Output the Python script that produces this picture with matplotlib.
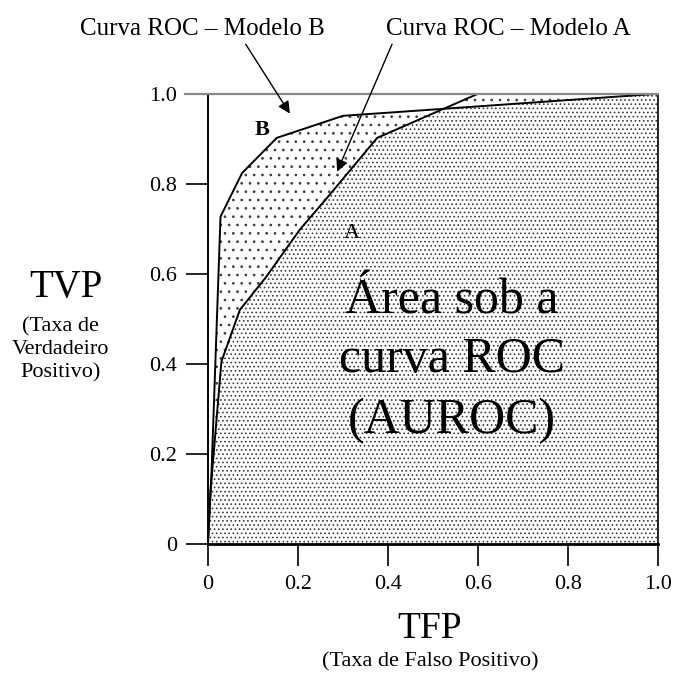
import numpy as np
import matplotlib.pyplot as plt

plt.rcParams['font.family'] = ['Liberation Serif', 'DejaVu Serif']
plt.rcParams['hatch.linewidth'] = 0.7

# curva ROC - modelo A
fpr_a = [0.0, 0.006, 0.03, 0.071, 0.13, 0.204, 0.264, 0.376, 0.6, 1.0]
tpr_a = [0.0, 0.12, 0.405, 0.52, 0.594, 0.698, 0.768, 0.902, 1.0, 1.0]
# curva ROC - modelo B
fpr_b = [0.0, 0.008, 0.028, 0.076, 0.153, 0.30, 0.43, 1.0]
tpr_b = [0.0, 0.158, 0.727, 0.824, 0.902, 0.951, 0.96, 1.0]

ticks = [0, 0.2, 0.4, 0.6, 0.8, 1.0]
tick_labels = ['0', '0.2', '0.4', '0.6', '0.8', '1.0']

area_lines = ['Área sob a', 'curva ROC', '(AUROC)']

fig = plt.figure(figsize=(6.75, 6.73), dpi=100)
ax = fig.add_axes([0.308, 0.1917, 0.667, 0.669])

xx = np.linspace(0, 1, 1000)
ya = np.interp(xx, fpr_a, tpr_a)
yb = np.interp(xx, fpr_b, tpr_b)
lo = np.minimum(ya, yb)
hi = np.maximum(ya, yb)

# pontilhado: mais denso sob as duas curvas, mais leve entre elas
ax.fill_between(xx, 0, lo, facecolor='white', edgecolor='#3a3a3a', hatch='....', linewidth=0)
ax.fill_between(xx, lo, hi, facecolor='white', edgecolor='#3a3a3a', hatch='..', linewidth=0)

ax.plot(fpr_a, tpr_a, color='black', lw=1.4)
ax.plot(fpr_b, tpr_b, color='black', lw=1.4)

ax.set_xlim(0, 1)
ax.set_ylim(0, 1)
ax.set_xticks(ticks)
ax.set_xticklabels(tick_labels)
ax.set_yticks(ticks)
ax.set_yticklabels(tick_labels)
ax.tick_params(direction='out', length=16, width=1.2, labelsize=16, pad=6)
ax.spines['top'].set_color('#888888')
ax.spines['top'].set_linewidth(1.6)
ax.spines['right'].set_linewidth(1.2)
ax.spines['left'].set_linewidth(1.4)
ax.spines['bottom'].set_linewidth(2.0)
ax.plot([-0.05, 0], [1, 1], color='#888888', lw=1.6, clip_on=False)

ax.text(0.12, 0.92, 'B', fontsize=16, fontweight='bold', ha='center', va='center')
ax.text(0.32, 0.69, 'A', fontsize=16, ha='center', va='center')

for line, yb_ in zip(area_lines, [0.513, 0.382, 0.247]):
    ax.text(0.542, yb_, line, fontsize=36, ha='center', va='baseline')

fig.text(0.30, 0.948, 'Curva ROC – Modelo B', fontsize=18, ha='center', va='baseline')
fig.text(0.753, 0.948, 'Curva ROC – Modelo A', fontsize=18, ha='center', va='baseline')
arrow = dict(arrowstyle='-|>', color='black', lw=1.0, mutation_scale=18, shrinkA=0, shrinkB=0)
ax.annotate('', xy=(0.182, 0.956), xytext=(0.084, 1.11), arrowprops=arrow, annotation_clip=False)
ax.annotate('', xy=(0.287, 0.827), xytext=(0.409, 1.11), arrowprops=arrow, annotation_clip=False)

fig.text(0.098, 0.559, 'TVP', fontsize=28, ha='center', va='baseline')
fig.text(0.09, 0.48, '(Taxa de\nVerdadeiro\nPositivo)', fontsize=16, ha='center', va='center',
         linespacing=1.3)
fig.text(0.637, 0.052, 'TFP', fontsize=27, ha='center', va='baseline')
fig.text(0.637, 0.009, '(Taxa de Falso Positivo)', fontsize=16, ha='center', va='baseline')

fig.savefig('out.png', dpi=100)
